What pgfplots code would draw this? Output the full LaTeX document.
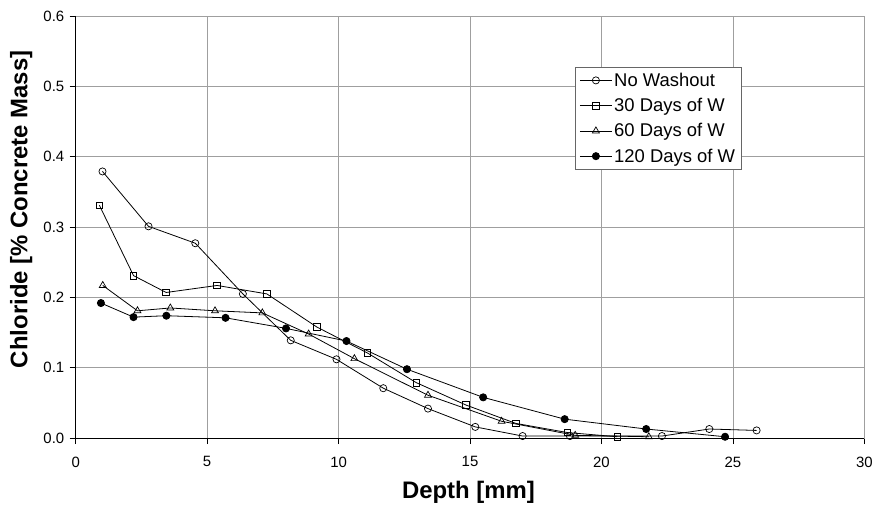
\documentclass[border=0pt]{standalone}
\usepackage{fontspec}
\setmainfont{Liberation Sans}
\usepackage{pgfplots}
\pgfplotsset{compat=1.18}

\begin{document}
\begin{tikzpicture}
\begin{axis}[
  scale only axis,
  width=792bp, height=424bp,
  xmin=0, xmax=30, ymin=0, ymax=0.6,
  xtick={0,5,10,15,20,25,30},
  ytick={0,0.1,0.2,0.3,0.4,0.5,0.6},
  /pgf/number format/assume math mode=true,
  yticklabel style={xshift=-2bp},
  yticklabel style={/pgf/number format/.cd, fixed, fixed zerofill, precision=1},
  ticklabel style={font=\fontsize{15bp}{17bp}\selectfont},
  xticklabel style={yshift=-9bp},
  xtick pos=bottom, ytick pos=left,
  tick align=outside, major tick length=6bp,
  tick style={black, line width=0.8bp},
  grid=major,
  grid style={gray!75, line width=0.8bp},
  axis line style={gray!75, line width=0.8bp},
  xlabel={Depth [mm]},
  ylabel={Chloride [\% Concrete Mass]},
  label style={font=\bfseries\fontsize{24bp}{28bp}\selectfont},
  xlabel style={at={(axis description cs:0.498,-0.128)}, anchor=center},
  ylabel style={at={(axis description cs:-0.069,0.542)}, anchor=center},
  legend style={at={(axis cs:19,0.528)}, anchor=north west,
    font=\fontsize{18.5bp}{21bp}\selectfont, draw=gray!80!black, line width=0.8bp,
    row sep=6.5bp, inner xsep=4bp, inner ysep=4bp},
  legend cell align=left,
  legend image code/.code={\draw[#1, mark repeat=2, mark phase=2]
    plot coordinates {(0bp,0bp) (16bp,0bp) (32bp,0bp)};},
  every axis plot/.append style={black, line width=0.8bp, mark size=3.6bp,
    mark options={solid, line width=0.7bp}},
]
\addplot[mark=o] coordinates {
  (1.02,0.379) (2.77,0.301) (4.55,0.277) (6.36,0.205) (8.18,0.139)
  (9.92,0.112) (11.7,0.071) (13.4,0.042) (15.2,0.016) (17.0,0.003)
  (18.8,0.003) (22.3,0.003) (24.1,0.013) (25.9,0.011)
};
\addplot[mark=square, mark size=3.3bp] coordinates {
  (0.9,0.331) (2.2,0.231) (3.44,0.207) (5.38,0.217) (7.27,0.205)
  (9.17,0.158) (11.1,0.121) (12.95,0.079) (14.85,0.047) (16.74,0.021)
  (18.7,0.008) (20.6,0.002)
};
\addplot[mark=triangle, mark size=4bp] coordinates {
  (1.03,0.217) (2.35,0.181) (3.6,0.185) (5.3,0.181) (7.1,0.178)
  (8.86,0.148) (10.6,0.113) (13.4,0.061) (16.2,0.024) (19.0,0.004)
  (21.8,0.002)
};
\addplot[mark=*, mark options={fill=black}] coordinates {
  (0.96,0.192) (2.2,0.172) (3.45,0.174) (5.7,0.171) (8.0,0.156)
  (10.3,0.138) (12.6,0.098) (15.5,0.058) (18.6,0.027) (21.7,0.013)
  (24.7,0.002)
};
\legend{No Washout, 30 Days of W, 60 Days of W, 120 Days of W}
\end{axis}
\draw[black, line width=0.9bp] (current axis.north west) -- (current axis.south west)
  -- (current axis.south east);
\path ([shift={(-76bp,-68bp)}]current axis.south west)
  rectangle ([shift={(8bp,16bp)}]current axis.north east);
\end{tikzpicture}
\end{document}
